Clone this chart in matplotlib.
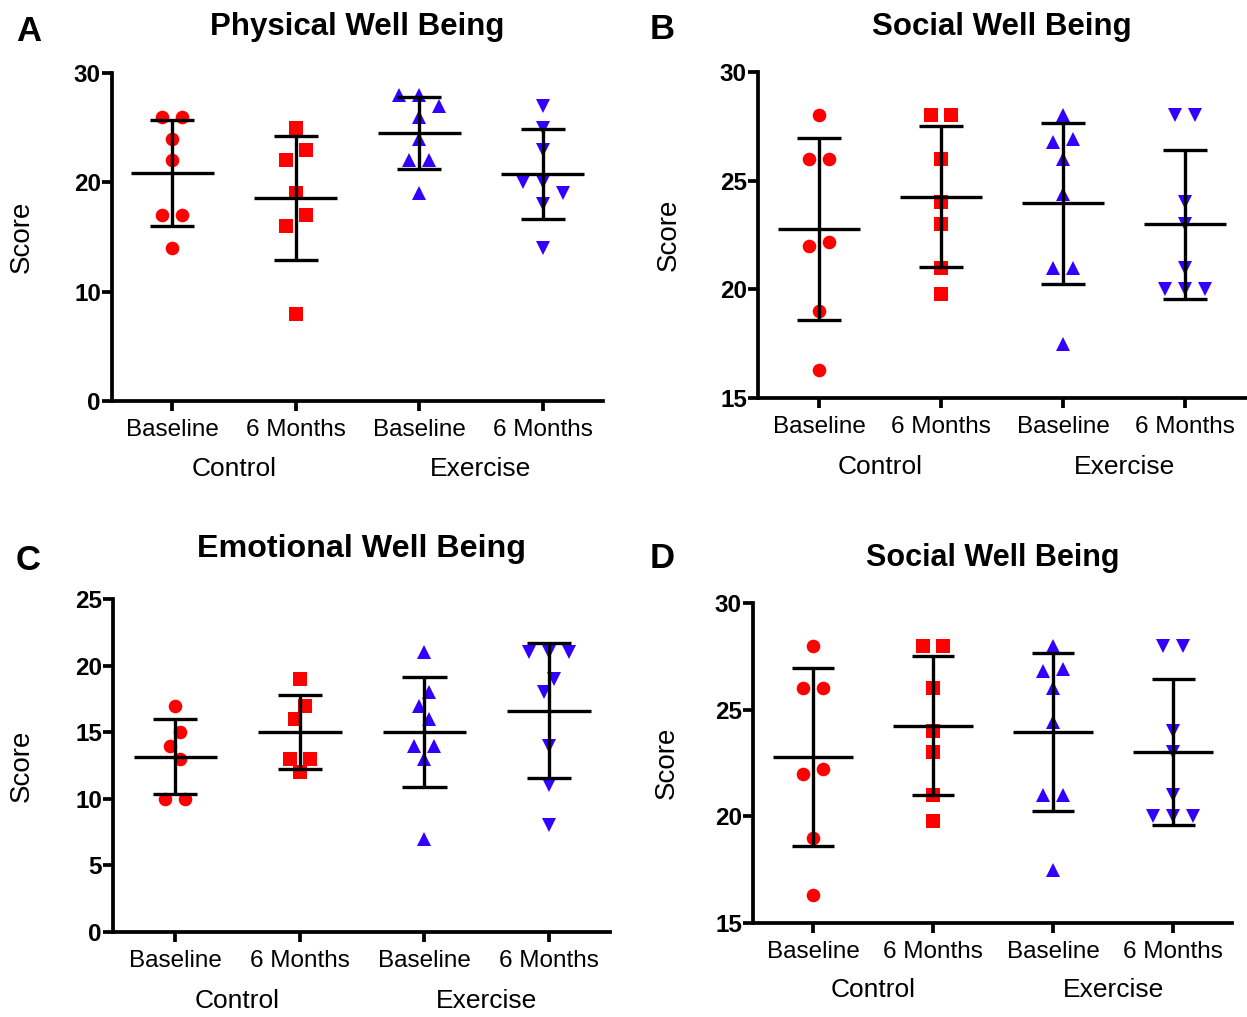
import numpy as np
import matplotlib
matplotlib.use('Agg')
import matplotlib.pyplot as plt

plt.rcParams['font.family'] = ['Liberation Sans', 'DejaVu Sans']

W, H, DPI = 1247, 1017, 100

# ---------------- data ----------------
categories = ['Baseline', '6 Months', 'Baseline', '6 Months']
groups = ['Control', 'Exercise']

physical = [
    [26, 26, 24, 22, 17, 17, 14],
    [25, 23, 22, 19, 17, 16, 8],
    [28, 28, 27, 26, 24, 22, 22, 19],
    [27, 25, 23, 20, 20, 19, 18, 14],
]
social = [
    [28, 26, 26, 22.2, 22, 19, 16.3],
    [28, 28, 26, 24, 23, 21, 19.8],
    [28, 26.9, 26.8, 26, 24.4, 21, 21, 17.5],
    [28, 28, 24, 23, 21, 20, 20, 20],
]
emotional = [
    [17, 15, 14, 13, 10, 10],
    [19, 17, 16, 13, 13, 12],
    [21, 18, 17, 16, 14, 14, 13, 7],
    [21, 21, 21, 19, 18, 14, 11, 8],
]

# ---------------- style ----------------
RED = '#FF0000'
BLUE = '#3300FF'
marker_styles = [('o', RED, 9.8), ('s', RED, 10.0), ('^', BLUE, 9.8), ('v', BLUE, 9.8)]
LW = 2.4


def swarm_offsets(vals, px_x, px_y, step=10.0, dmin=15.0):
    """Greedy beeswarm in pixel space; clusters are re-centred."""
    vals = np.asarray(vals, float)
    order = np.argsort(-vals, kind='stable')
    ys = vals * px_y
    placed = []
    off = np.zeros(len(vals))
    for i in order:
        k_seq = [0]
        for k in range(1, 20):
            k_seq += [-k, k]
        for k in k_seq:
            x = k * step
            if all((x - px) ** 2 + (ys[i] - py) ** 2 >= dmin ** 2 for px, py in placed):
                off[i] = x
                placed.append((x, ys[i]))
                break
    sorted_idx = list(order)
    clusters = [[sorted_idx[0]]]
    for a, b in zip(sorted_idx[:-1], sorted_idx[1:]):
        if abs(ys[a] - ys[b]) < dmin:
            clusters[-1].append(b)
        else:
            clusters.append([b])
    for c in clusters:
        mid = (off[c].max() + off[c].min()) / 2
        off[c] -= mid
    return off / px_x


fig = plt.figure(figsize=(W / DPI, H / DPI), dpi=DPI)


def make_panel(box, xlim, ylim, yticks, data, title, title_base, letter, letter_pos,
               group_off, ylabel_x, title_size):
    l, r, t, b = box
    ax = fig.add_axes([l / W, 1 - b / H, (r - l) / W, (b - t) / H])
    ax.set_xlim(*xlim)
    ax.set_ylim(*ylim)
    px_x = (r - l) / (xlim[1] - xlim[0])
    px_y = (b - t) / (ylim[1] - ylim[0])

    for i, vals in enumerate(data):
        m, c, ms = marker_styles[i]
        offs = swarm_offsets(vals, px_x, px_y)
        ax.plot(i + offs, vals, linestyle='none', marker=m, color=c,
                markersize=ms, markeredgewidth=0, zorder=2, clip_on=False)
        mean = np.mean(vals)
        sd = np.std(vals, ddof=1)
        ax.hlines(mean, i - 0.335, i + 0.335, color='black', lw=LW, zorder=3)
        ax.vlines(i, mean - sd, mean + sd, color='black', lw=LW, zorder=3)
        ax.hlines([mean - sd, mean + sd], i - 0.178, i + 0.178, color='black', lw=LW, zorder=3)

    for s in ['top', 'right']:
        ax.spines[s].set_visible(False)
    for s in ['left', 'bottom']:
        ax.spines[s].set_linewidth(LW + 0.3)
    ax.set_yticks(yticks)
    ax.set_xticks(range(len(categories)))
    ax.set_xticklabels(categories, fontsize=17.5)
    ax.tick_params(axis='both', direction='out', length=7, width=LW + 0.3)
    ax.tick_params(axis='x', pad=6)
    ax.tick_params(axis='y', pad=1, labelsize=17.5)
    for tl in ax.get_yticklabels():
        tl.set_fontweight('bold')

    for g, name in enumerate(groups):
        ax.annotate(name, xy=(2 * g + 0.5, 0), xycoords=('data', 'axes fraction'),
                    xytext=(0, -group_off * 72 / DPI), textcoords='offset points',
                    ha='center', va='center', fontsize=19)

    fig.text(ylabel_x / W, 1 - ((t + b) / 2) / H, 'Score', rotation=90,
             ha='center', va='center', fontsize=20)
    fig.text(((l + r) / 2) / W, 1 - title_base / H, title, ha='center',
             va='baseline', fontsize=title_size, fontweight='bold')
    fig.text(letter_pos[0] / W, 1 - letter_pos[1] / H, letter, ha='left',
             va='baseline', fontsize=25, fontweight='bold')
    return ax


make_panel((112, 603, 73, 401), (-0.49, 3.49), (0, 30), [0, 10, 20, 30], physical,
           'Physical Well Being', 35, 'A', (16, 41), 68, 22, 22.5)
make_panel((758, 1246, 72, 398), (-0.5, 3.5), (15, 30), [15, 20, 25, 30], social,
           'Social Well Being', 35, 'B', (650, 39), 69, 669, 22.5)
make_panel((113, 610, 599, 932), (-0.5, 3.49), (0, 25), [0, 5, 10, 15, 20, 25], emotional,
           'Emotional Well Being', 557, 'C', (16, 570), 69, 22, 23.2)
make_panel((753, 1232, 603, 923), (-0.5, 3.49), (15, 30), [15, 20, 25, 30], social,
           'Social Well Being', 566, 'D', (650, 568), 67, 667, 22)

fig.savefig('out.png', dpi=DPI)
